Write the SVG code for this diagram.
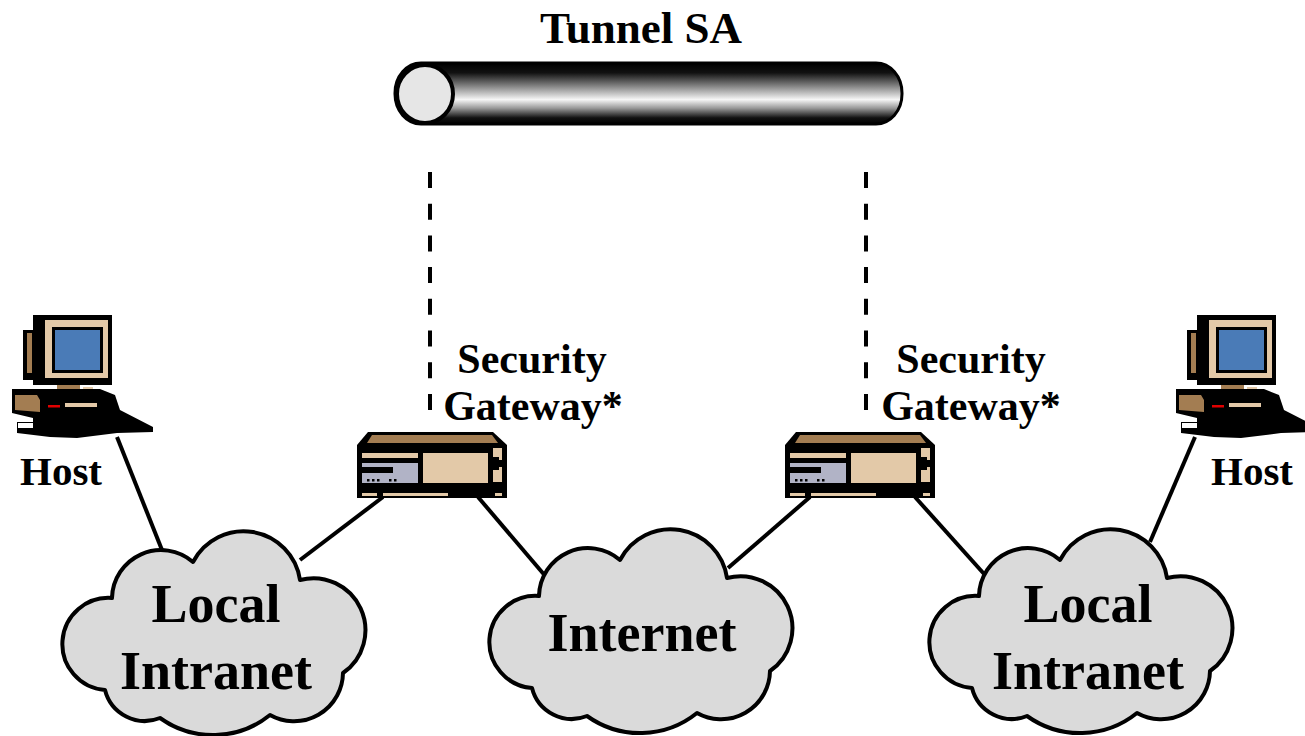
<svg xmlns="http://www.w3.org/2000/svg" width="1305" height="736" viewBox="0 0 1305 736">
<defs>
<linearGradient id="tubeGrad" x1="0" y1="0" x2="0" y2="1">
<stop offset="0" stop-color="#000"/>
<stop offset="0.16" stop-color="#111"/>
<stop offset="0.42" stop-color="#999"/>
<stop offset="0.6" stop-color="#f6f6f6"/>
<stop offset="0.74" stop-color="#999"/>
<stop offset="0.9" stop-color="#111"/>
<stop offset="1" stop-color="#000"/>
</linearGradient>
<path id="cloudShape" d="M112,598 A49,49 0 0 1 193,562 A57,57 0 0 1 300,580 A52,52 0 0 1 343,673 A49,49 0 0 1 270,715 A91,91 0 0 1 160,718 A41,41 0 0 1 105,690 A46,46 0 0 1 112,598 Z"/>
<g id="gatewayIcon">
<polygon points="368,432 493,432 507,445 507,498 357,498 357,445" fill="#000"/>
<polygon points="372,435 492,435 498,443 367,443" fill="#a37d52"/>
<rect x="362" y="453" width="56" height="5" fill="#e3c9a8"/>
<rect x="362" y="463" width="56" height="20" fill="#b1b3c6"/>
<rect x="362" y="467" width="31" height="6" fill="#000"/>
<rect x="367" y="479" width="2.5" height="2.5" fill="#000"/>
<rect x="372" y="479" width="2.5" height="2.5" fill="#000"/>
<rect x="377" y="479" width="2.5" height="2.5" fill="#000"/>
<rect x="389" y="479" width="2.5" height="2.5" fill="#000"/>
<rect x="394" y="479" width="2.5" height="2.5" fill="#000"/>
<rect x="423" y="453" width="65" height="30" fill="#e3c9a8"/>
<polygon points="493,448 502,448 502,460 499,460 499,457 493,457" fill="#e3c9a8"/>
<polygon points="493,470 499,470 499,467 502,467 502,482 493,482" fill="#e3c9a8"/>
<rect x="362" y="493" width="15" height="3" fill="#e3c9a8"/>
<rect x="383" y="493" width="65" height="3" fill="#e3c9a8"/>
<rect x="495" y="493" width="7" height="3" fill="#e3c9a8"/>
</g>
<g id="hostIcon">
<rect x="23" y="330" width="12" height="50" fill="#000"/>
<rect x="27" y="333" width="5" height="40" fill="#a37d52"/>
<rect x="33" y="315" width="79" height="70" fill="#000"/>
<rect x="45" y="320" width="63" height="58" fill="#e3c9a8"/>
<rect x="52" y="327" width="51" height="46" fill="#000"/>
<rect x="55" y="330" width="45" height="40" fill="#4a7bb7"/>
<rect x="57" y="385" width="23" height="5" fill="#a37d52"/>
<rect x="83" y="387" width="10" height="3" fill="#e3c9a8"/>
<polygon points="12,389 100,389 115,395 120,410 153,427 153,432 117,433 77,438 50,437 17,433 17,422 33,422 33,418 12,413" fill="#000"/>
<rect x="18" y="423" width="15" height="5" fill="#fff"/>
<polygon points="15,395 37,395 40,400 40,412 15,410" fill="#a37d52"/>
<rect x="48" y="405" width="12" height="2.5" fill="#e00000"/>
<rect x="65" y="403" width="32" height="4" fill="#e3c9a8"/>
</g>
</defs>
<style>
.lbl{font-family:"Liberation Serif","Times New Roman",serif;font-weight:bold;fill:#000;text-anchor:middle}
.conn{stroke:#000;stroke-width:4;fill:none}
.dash{stroke:#000;stroke-width:4;fill:none;stroke-dasharray:16 15.7}
.cloud{fill:#dadada;stroke:#000;stroke-width:4;stroke-linejoin:round}
</style>
<rect width="1305" height="736" fill="#fff"/>

<g id="connectors">
<line class="conn" x1="117" y1="437" x2="162" y2="550"/>
<line class="conn" x1="300" y1="560" x2="383" y2="497"/>
<line class="conn" x1="478" y1="497" x2="547" y2="578"/>
<line class="conn" x1="728" y1="568" x2="810" y2="497"/>
<line class="conn" x1="915" y1="497" x2="985" y2="575"/>
<line class="conn" x1="1150" y1="542" x2="1195" y2="437"/>
<line class="dash" x1="430" y1="172" x2="430" y2="410"/>
<line class="dash" x1="866" y1="172" x2="866" y2="410"/>
</g>

<g id="tunnel">
<rect x="395" y="63" width="507" height="61" rx="26" ry="30" fill="url(#tubeGrad)" stroke="#000" stroke-width="3"/>
<ellipse cx="425" cy="94" rx="28" ry="29" fill="#e6e6e6" stroke="#000" stroke-width="4"/>
<text class="lbl" x="641" y="43" font-size="45">Tunnel SA</text>
</g>

<g id="host-left">
<use href="#hostIcon"/>
<text class="lbl" x="61" y="485" font-size="41">Host</text>
</g>

<g id="host-right">
<use href="#hostIcon" transform="translate(1164,0)"/>
<text class="lbl" x="1252" y="485" font-size="41">Host</text>
</g>

<g id="gateway-left">
<use href="#gatewayIcon"/>
<text class="lbl" x="532" y="373" font-size="42">Security</text>
<text class="lbl" x="533" y="420" font-size="42">Gateway*</text>
</g>

<g id="gateway-right">
<use href="#gatewayIcon" transform="translate(428,0)"/>
<text class="lbl" x="971" y="373" font-size="42">Security</text>
<text class="lbl" x="971" y="420" font-size="42">Gateway*</text>
</g>

<g id="cloud-left">
<use href="#cloudShape" class="cloud"/>
<text class="lbl" x="216" y="622" font-size="54">Local</text>
<text class="lbl" x="216" y="689" font-size="54">Intranet</text>
</g>

<g id="cloud-internet">
<use href="#cloudShape" class="cloud" transform="translate(427,-2)"/>
<text class="lbl" x="642" y="651" font-size="54">Internet</text>
</g>

<g id="cloud-right">
<use href="#cloudShape" class="cloud" transform="translate(867,-2)"/>
<text class="lbl" x="1088" y="622" font-size="54">Local</text>
<text class="lbl" x="1088" y="689" font-size="54">Intranet</text>
</g>
</svg>
